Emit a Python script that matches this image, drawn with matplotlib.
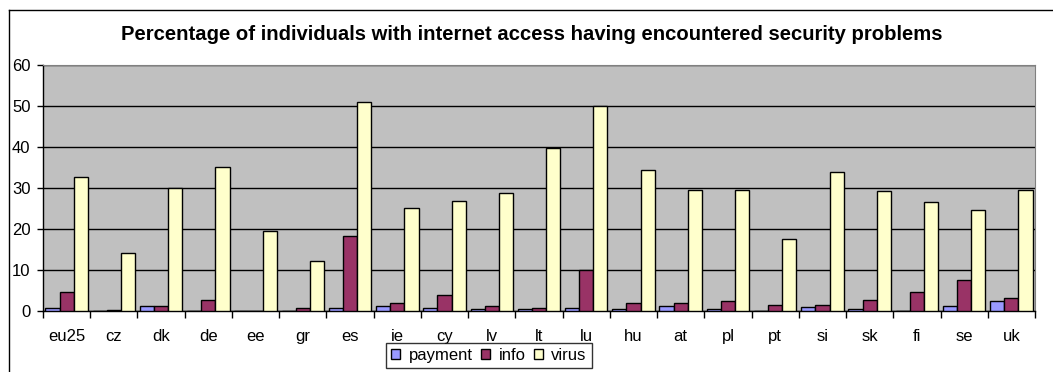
import numpy as np
import matplotlib
matplotlib.use("Agg")
import matplotlib.pyplot as plt
from matplotlib.lines import Line2D

plt.rcParams['font.family'] = ['Liberation Sans', 'DejaVu Sans']

countries = ["eu25", "cz", "dk", "de", "ee", "gr", "es", "ie", "cy", "lv", "lt",
             "lu", "hu", "at", "pl", "pt", "si", "sk", "fi", "se", "uk"]
payment = [0.7, 0.0, 1.1, 0.0, 0.0, 0.0, 0.7, 1.2, 0.8, 0.4, 0.4,
           0.8, 0.4, 1.2, 0.4, 0.0, 0.9, 0.4, 0.0, 1.1, 2.4]
info = [4.7, 0.3, 1.1, 2.8, 0.0, 0.7, 18.4, 2.0, 3.9, 1.2, 0.8,
        10.0, 2.0, 2.0, 2.4, 1.5, 1.5, 2.8, 4.7, 7.5, 3.1]
virus = [32.8, 14.1, 30.0, 35.2, 19.6, 12.2, 50.9, 25.1, 26.9, 28.9, 39.8,
         50.1, 34.4, 29.6, 29.6, 17.6, 34.0, 29.2, 26.6, 24.7, 29.6]

series = [("payment", payment, "#9999FF"),
          ("info", info, "#993366"),
          ("virus", virus, "#FFFFCC")]

W, H = 1053, 372
fig = plt.figure(figsize=(W / 100, H / 100), dpi=100)
ax = fig.add_axes([43 / W, 61 / H, 992 / W, 246 / H])
ax.set_facecolor("#C0C0C0")

x = np.arange(len(countries))
w = 0.3
for k, (name, vals, col) in enumerate(series):
    ax.bar(x + (k - 1) * w, vals, w, color=col, edgecolor="black",
           linewidth=1, label=name, zorder=3)

ax.set_xlim(-0.5, len(countries) - 0.5)
ax.set_ylim(0, 60)
ax.set_yticks(range(0, 61, 10))
ax.yaxis.grid(True, color="black", linewidth=1, zorder=1)
ax.set_axisbelow(True)

ax.set_xticks(x)
ax.set_xticklabels(countries, fontsize=12)
ax.tick_params(axis="x", length=0, pad=13)
ax.set_xticks(np.arange(-0.5, len(countries)), minor=True)
ax.tick_params(axis="x", which="minor", length=5, direction="out", width=1)
ax.tick_params(axis="y", labelsize=12, length=4, width=1, direction="out", pad=5)

for side in ["top", "right"]:
    ax.spines[side].set_color("#808080")
for side in ["left", "bottom"]:
    ax.spines[side].set_linewidth(1)

fig.text(532 / W, 1 - 34 / H, "Percentage of individuals with internet access having encountered security problems",
         ha="center", va="center", fontsize=14.6, fontweight="bold")

leg = fig.legend(loc="upper center", bbox_to_anchor=(489 / W, 1 - 343 / H), ncol=3,
                 fontsize=12, frameon=True, fancybox=False, edgecolor="black",
                 handlelength=0.55, handleheight=0.55, handletextpad=0.5,
                 columnspacing=0.5, borderpad=0.3, borderaxespad=0)
leg.get_frame().set_linewidth(1)

# chart area border (left and top edges visible in the crop)
fig.add_artist(Line2D([9 / W, 9 / W], [0, 1 - 10 / H], transform=fig.transFigure,
                      color="black", linewidth=1))
fig.add_artist(Line2D([9 / W, 1], [1 - 10 / H, 1 - 10 / H], transform=fig.transFigure,
                      color="black", linewidth=1))

fig.savefig("out.png", dpi=100)
